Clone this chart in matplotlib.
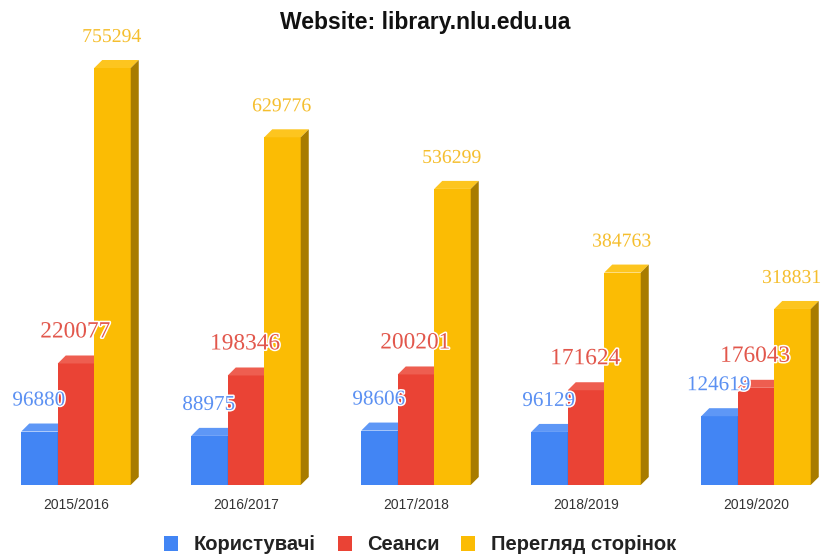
import matplotlib
matplotlib.use("Agg")
import matplotlib.pyplot as plt
from matplotlib.patches import Polygon, Patch
import matplotlib.patheffects as pe

# ---------------- data ----------------
years = ["2015/2016", "2016/2017", "2017/2018", "2018/2019", "2019/2020"]
users = [96880, 88975, 98606, 96129, 124619]
sessions = [220077, 198346, 200201, 171624, 176043]
pageviews = [755294, 629776, 536299, 384763, 318831]
series_names = ["Користувачі", "Сеанси", "Перегляд сторінок"]
title = "Website: library.nlu.edu.ua"

# ---------------- styles ----------------
front = ["#4285F4", "#EA4335", "#FBBC04"]
top = ["#5E97F6", "#EE5E50", "#FDC51F"]
side = ["#2F64BE", "#B3322A", "#A87C00"]
label_col = ["#5B90F2", "#E2574C", "#F5BE2E"]
label_size = [15.2, 16.8, 14.2]

W, H, DPI = 8.27, 5.56, 100
fig = plt.figure(figsize=(W, H), dpi=DPI)
fig.patch.set_facecolor("white")

base_px = 71.0          # baseline from figure bottom (px)
ymax = 800000
px_per_unit_y = 417.0 / 755294
axh_px = ymax * px_per_unit_y
ax = fig.add_axes([0, base_px / 556, 1, axh_px / 556])
group_px = 170.0
x0_px = 76.0
ax.set_xlim(-x0_px / group_px, (827 - x0_px) / group_px)
ax.set_ylim(0, ymax)
ax.axis("off")

bw = 36.5 / group_px           # bar width in x units
d_px = 8.0
dx = d_px / group_px
dy = d_px / px_per_unit_y

data = [users, sessions, pageviews]
for i in range(len(years)):
    for s in range(3):
        v = data[s][i]
        xl = i + (s - 1.5) * bw
        xr = xl + bw
        # front
        ax.add_patch(Polygon([(xl, 0), (xr, 0), (xr, v), (xl, v)],
                             closed=True, facecolor=front[s], edgecolor="none", zorder=2 + s))
        # top
        ax.add_patch(Polygon([(xl, v), (xr, v), (xr + dx, v + dy), (xl + dx, v + dy)],
                             closed=True, facecolor=top[s], edgecolor="none", zorder=2 + s))
        # side
        ax.add_patch(Polygon([(xr, 0), (xr + dx, dy), (xr + dx, v + dy), (xr, v)],
                             closed=True, facecolor=side[s], edgecolor="none", zorder=2 + s))
        ax.annotate(f"{v}", xy=(xl + bw / 2 - 0.005, v), xytext=(0, 26),
                    textcoords="offset pixels", ha="center", va="baseline",
                    fontsize=label_size[s], family="Liberation Serif",
                    color=label_col[s], zorder=10,
                    path_effects=[pe.withStroke(linewidth=2.2, foreground="white")])
    ax.text(i, -20 / px_per_unit_y, years[i], ha="center", va="center",
            fontsize=10, family="Liberation Sans", color="#333333")

fig.text(425 / 827, 1 - 23 / 556, title, ha="center", va="center",
         fontsize=16.5, fontweight="bold", family="Liberation Sans", color="#111111")

handles = [Patch(facecolor=front[s], edgecolor="none") for s in range(3)]
leg = fig.legend(handles, series_names, loc="center", bbox_to_anchor=(420 / 827, 11 / 556),
                 ncol=3, frameon=False, handlelength=0.7, handleheight=0.7,
                 handletextpad=0.75, columnspacing=1.1,
                 prop={"family": "Liberation Sans", "weight": "bold", "size": 14.5})
for t in leg.get_texts():
    t.set_color("#222222")

fig.savefig("out.png", dpi=DPI, facecolor="white")
